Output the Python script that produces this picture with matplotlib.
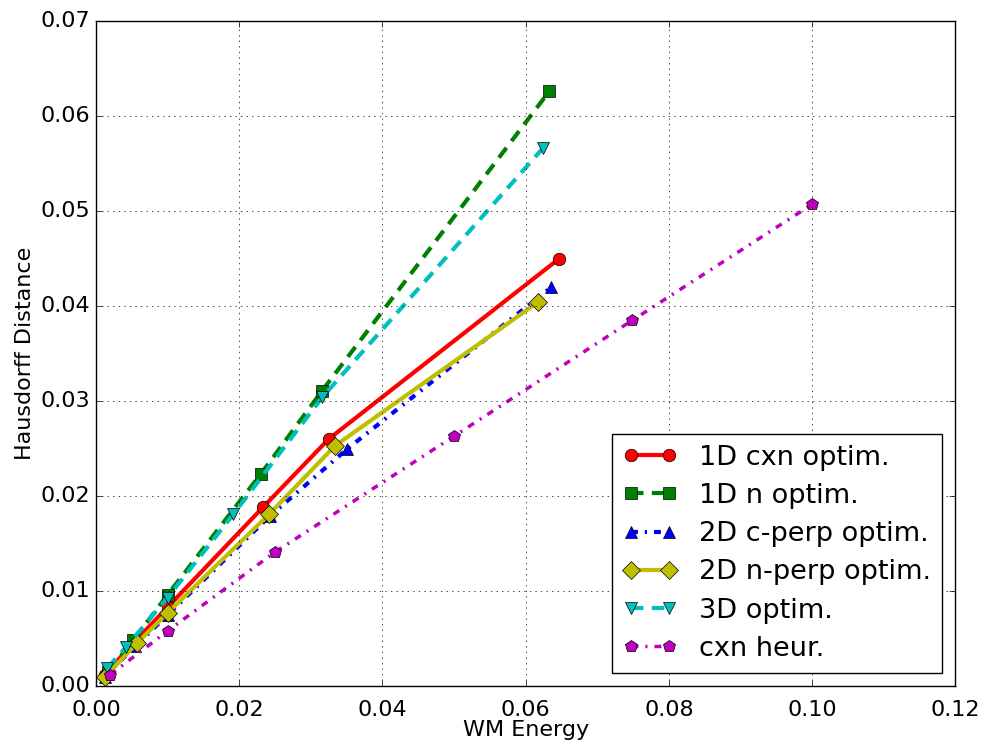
import matplotlib
matplotlib.use('Agg')
import matplotlib.pyplot as plt

plt.style.use('classic')
plt.rcParams['xtick.major.pad'] = 10
plt.rcParams['xtick.minor.pad'] = 10

# data
x_1d_cxn = [0.0012, 0.0052, 0.0100, 0.0233, 0.0325, 0.0647]
y_1d_cxn = [0.0012, 0.0045, 0.0083, 0.0188, 0.0260, 0.0450]

x_1d_n = [0.0017, 0.0052, 0.0100, 0.0230, 0.0316, 0.0633]
y_1d_n = [0.0015, 0.0048, 0.0096, 0.0223, 0.0311, 0.0626]

x_2d_c = [0.0012, 0.0055, 0.0100, 0.0243, 0.0350, 0.0636]
y_2d_c = [0.0010, 0.0042, 0.0075, 0.0179, 0.0249, 0.0420]

x_2d_n = [0.0013, 0.0057, 0.0100, 0.0242, 0.0334, 0.0617]
y_2d_n = [0.0010, 0.0045, 0.0077, 0.0181, 0.0253, 0.0404]

x_3d = [0.0016, 0.0042, 0.0100, 0.0192, 0.0316, 0.0624]
y_3d = [0.0019, 0.0041, 0.0093, 0.0181, 0.0304, 0.0566]

x_heur = [0.0020, 0.0100, 0.0250, 0.0500, 0.0749, 0.1000]
y_heur = [0.0012, 0.0058, 0.0141, 0.0263, 0.0385, 0.0507]

fig = plt.figure(figsize=(9.89, 7.49), dpi=100, facecolor='white')
ax = fig.add_axes([0.097, 0.084, 0.869, 0.888])

ms = 9
dash = (9, 6)
dashdot = (5, 5, 1.5, 5)
ax.plot(x_1d_cxn, y_1d_cxn, 'r-o', lw=3, ms=ms, label='1D cxn optim.')
ax.plot(x_1d_n, y_1d_n, 'g--s', lw=3, ms=ms, dashes=dash, label='1D n optim.')
ax.plot(x_2d_c, y_2d_c, 'b-.^', lw=3, ms=ms, dashes=dashdot, label='2D c-perp optim.')
ax.plot(x_2d_n, y_2d_n, 'y-D', lw=3, ms=ms, label='2D n-perp optim.')
ax.plot(x_3d, y_3d, 'c--v', lw=3, ms=ms, dashes=dash, label='3D optim.')
ax.plot(x_heur, y_heur, 'm-.p', lw=2.5, ms=ms, dashes=dashdot, label='cxn heur.')

ax.set_xlim(0, 0.12)
ax.set_ylim(0, 0.07)
ax.grid(True)
ax.tick_params(labelsize=16)
ax.set_xlabel('WM Energy', fontsize=16, labelpad=0)
ax.set_ylabel('Hausdorff Distance', fontsize=16, labelpad=4)
ax.legend(loc='lower right', fontsize=19.5, numpoints=2, labelspacing=0.45)

fig.savefig('out.png', dpi=100, facecolor='white')
